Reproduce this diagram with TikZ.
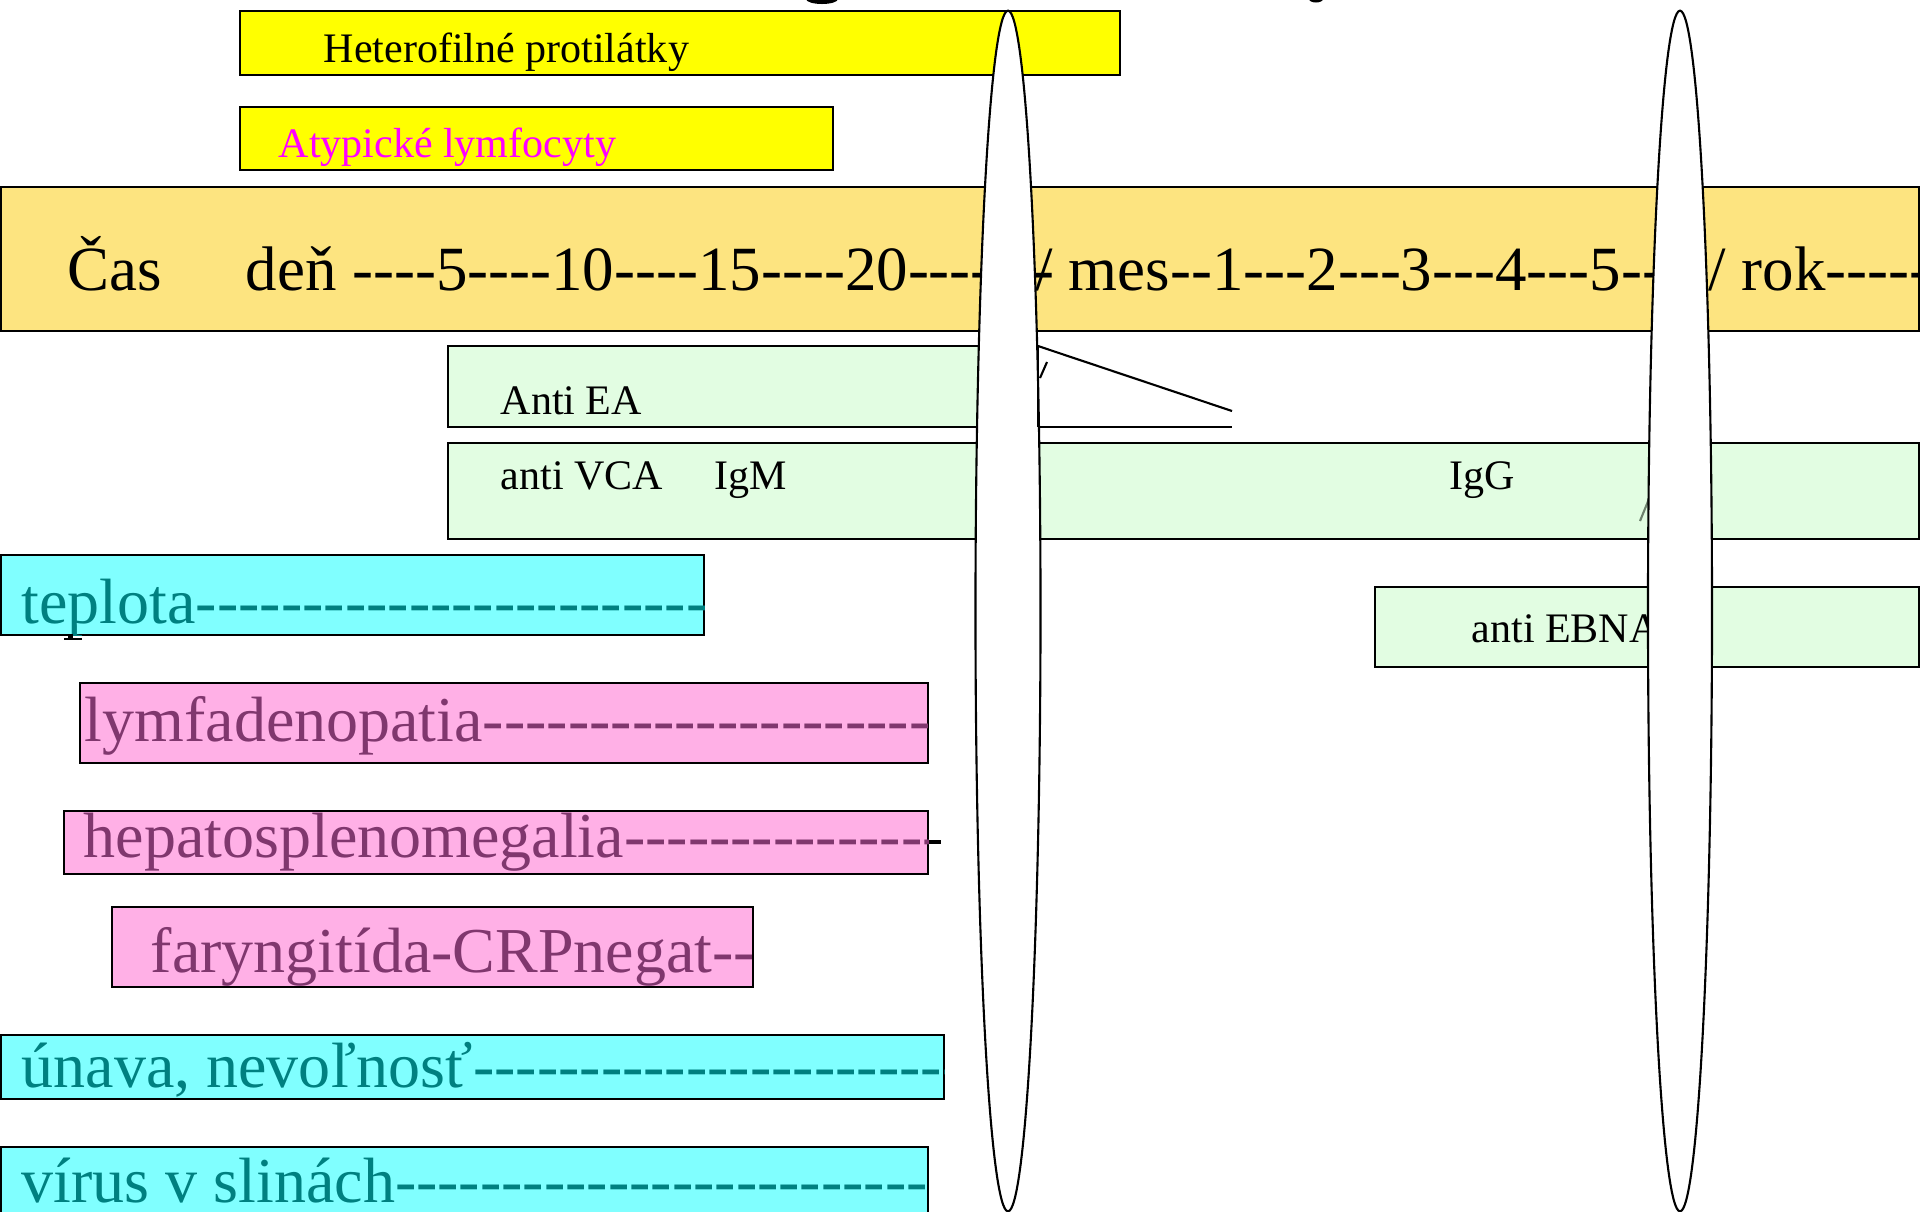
\documentclass[tikz,border=0pt]{standalone}
\usepackage{fontspec}
\setmainfont{Liberation Serif}[Ligatures=TeXOff]
\definecolor{bandc}{RGB}{253,228,128}
\definecolor{greenc}{RGB}{226,253,226}
\definecolor{cyanc}{RGB}{128,255,255}
\definecolor{pinkc}{RGB}{255,176,230}
\definecolor{tealc}{RGB}{0,128,128}
\definecolor{purpc}{RGB}{128,55,110}
\definecolor{yelc}{RGB}{255,255,0}
\definecolor{magc}{RGB}{255,0,255}
\definecolor{slashc}{RGB}{110,130,110}
\begin{document}
\begin{tikzpicture}[x=0.01cm,y=-0.01cm,
  box/.style={draw=black,line width=0.6pt},
  small/.style={font=\fontsize{11.95}{14}\selectfont,inner sep=0pt,anchor=base west},
  big/.style={font=\fontsize{18.2}{21}\selectfont,inner sep=0pt,anchor=base west},
  bandtxt/.style={font=\fontsize{17.9}{21}\selectfont,inner sep=0pt,anchor=base west},
  oval/.style={draw=black,fill=white,line width=0.6pt},
  thin/.style={draw=black,line width=0.6pt}]
\useasboundingbox (0,0) rectangle (1920,1211);
\clip (0,0) rectangle (1920,1211);

% title fragments cut off at the top
\fill (822,-1) ellipse [x radius=0.16cm, y radius=0.05cm];
\fill (1316,-1) ellipse [x radius=0.07cm, y radius=0.035cm];

% yellow boxes
\draw[box,fill=yelc] (240,11) rectangle (1120,75);
\node[small] (hetero) at (323,62) {Heterofilné protilátky};
\draw[box,fill=yelc] (240,107) rectangle (833,170);
\node[small,text=magc] (atyp) at (278,157) {Atypické lymfocyty};

% time band
\draw[box,fill=bandc] (1,187) rectangle (1919,331);
\node[bandtxt] (cas) at (67,290) {Čas};
\node[bandtxt] (den) at (245,290) {deň ----5----10----15----20-------};
\node[bandtxt] (mes) at (1035,290) {/ mes--1---2---3---4---5----};
\node[bandtxt] (rok) at (1708,290) {/ rok---------};

% antibody boxes
\draw[box,fill=greenc] (448,346) rectangle (1038,427);
\node[small] (antiea) at (500,414) {Anti EA};
\draw[box,fill=greenc] (448,443) rectangle (1919,539);
\node[small] (antivca) at (500,489) {anti VCA};
\node[small] (igm) at (714,489) {IgM};
\node[small] (igg) at (1449,489) {IgG};
\draw[slashc,line width=0.6pt] (1640,521) -- (1651,494);
\draw[box,fill=greenc] (1375,587) rectangle (1919,667);
\node[small] (ebna) at (1471,642) {anti EBNA};

% symptom boxes
\draw[box,fill=cyanc] (1,555) rectangle (704,635);
\begin{scope}\clip (1,555) rectangle (704,635);
\node[big,text=tealc] (tepl) at (21,623) {teplota------------------------------};
\end{scope}
\fill (68,634) rectangle (73,640);
\fill (64,637.5) rectangle (82,640);

\draw[box,fill=pinkc] (80,683) rectangle (928,763);
\begin{scope}\clip (80,683) rectangle (928,763);
\node[big,text=purpc] (lymf) at (84,741) {lymfadenopatia------------------------------};
\end{scope}

\draw[box,fill=pinkc] (64,811) rectangle (928,874);
\begin{scope}\clip (64,811) rectangle (928,874);
\node[big,text=purpc] (hep) at (83,857) {hepatosplenomegalia------------------------};
\end{scope}
\fill (929,840) rectangle (941,844);

\draw[box,fill=pinkc] (112,907) rectangle (753,987);
\node[big,text=purpc] (far) at (150,972) {faryngitída-CRPnegat--};

\draw[box,fill=cyanc] (1,1035) rectangle (944,1099);
\begin{scope}\clip (1,1035) rectangle (944,1099);
\node[big,text=tealc] (unava) at (21,1087) {únava, nevoľnosť------------------------------};
\end{scope}

\draw[box,fill=cyanc] (1,1147) rectangle (928,1215);
\begin{scope}\clip (1,1147) rectangle (928,1215);
\node[big,text=tealc] (virus) at (21,1202) {vírus v slinách------------------------------};
\end{scope}

% time-break ovals
\draw[oval] (1008,611) ellipse [x radius=0.325cm, y radius=6cm];
\draw[oval] (1680,611) ellipse [x radius=0.32cm, y radius=6cm];

% Anti EA decline
\draw[thin] (1038,346) -- (1038,427);
\draw[thin] (1038,346) -- (1232,411);
\draw[thin] (1038,427) -- (1232,427);
\draw[thin] (1047,362) -- (1040,378);
\end{tikzpicture}
\end{document}
